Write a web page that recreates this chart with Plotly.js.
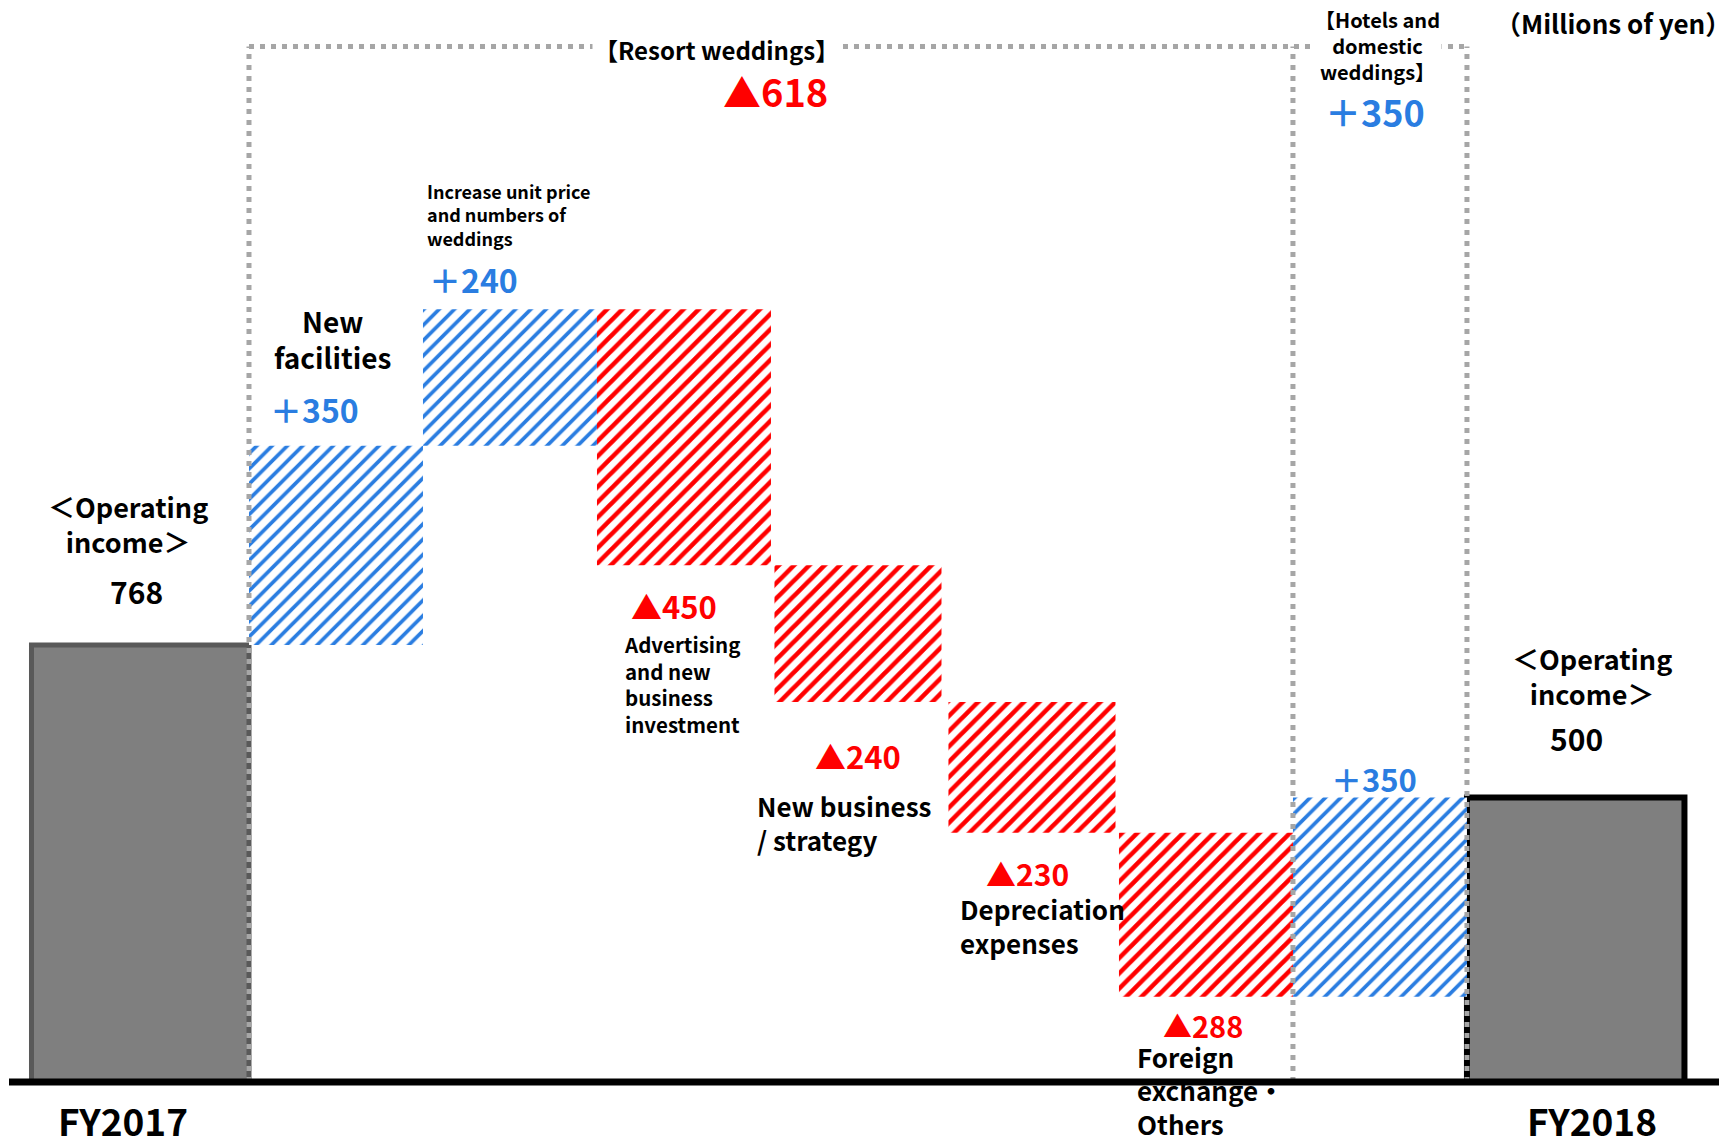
<!DOCTYPE html>
<html>
<head>
<meta charset="utf-8">
<script src="https://cdn.plot.ly/plotly-3.0.1.min.js"></script>
<style>
  html, body { margin: 0; padding: 0; background: #ffffff; }
  #chart { width: 1733px; height: 1146px; }
</style>
</head>
<body>
<div id="chart"></div>
<script>
// Operating income bridge FY2017 -> FY2018 (millions of yen)
const periods = ['FY2017', 'FY2018'];
const startIncome = 768;
const endIncome = 500;
const incomeCaption = '＜Operating<br>income＞';

const factorNames = [
  'New facilities',
  'Increase unit price and numbers of weddings',
  'Advertising and new business investment',
  'New business / strategy',
  'Depreciation expenses',
  'Foreign exchange・Others',
  'Hotels and domestic weddings'
];
const factorChanges = [350, 240, -450, -240, -230, -288, 350];
const factorCaptions = [
  'New<br>facilities',
  'Increase unit price<br>and numbers of<br>weddings',
  'Advertising<br>and new<br>business<br>investment',
  'New business<br>/ strategy',
  'Depreciation<br>expenses',
  'Foreign<br>exchange・<br>Others',
  ''
];

const segmentNames = ['【Resort weddings】', '【Hotels and<br>domestic<br>weddings】'];
const segmentFactors = [[0, 1, 2, 3, 4, 5], [6]];
const unitNote = '（Millions of yen）';

// ---- styling ----
const W = 1733, H = 1146;
const FONT = '"Noto Sans CJK JP", "Noto Sans", sans-serif';
const BLUE = '#2A7DE1';
const RED = '#FF0000';
const GREY_FILL = '#7F7F7F';
const DOT_GREY = '#A6A6A6';
const X_RANGE = [-0.931, 9.029];
const Y_RANGE = [-112.5, 1901.6];

// slot layout: totals at the two ends (wider), factors in unit slots 1..7
const totalX = [-0.125, 8.125];
const totalWidth = [1.25, 1.25];
const factorX = factorChanges.map((_, i) => i + 1);
const factorWidth = [1, 1, 1, 0.96, 0.96, 1, 1];

const fmt = v => (v < 0 ? '▲' + (-v) : '＋' + v);

// running bases for the floating bars
const bases = [];
let running = startIncome;
factorChanges.forEach(v => { bases.push(running); running += v; });

const segmentTotals = segmentFactors.map(ids => ids.reduce((s, i) => s + factorChanges[i], 0));

const pick = (arr, cond) => arr.filter((_, i) => cond(i));
const isUp = i => factorChanges[i] > 0;
const isDown = i => factorChanges[i] < 0;

const traces = [
  {
    type: 'bar',
    x: totalX,
    y: [startIncome, endIncome],
    base: [0, 0],
    width: totalWidth,
    marker: {
      color: GREY_FILL,
      line: { color: ['#595959', '#000000'], width: [5, 6] }
    },
    hoverinfo: 'skip'
  },
  {
    type: 'bar',
    x: pick(factorX, isUp),
    y: pick(factorChanges, isUp),
    base: pick(bases, isUp),
    width: pick(factorWidth, isUp),
    marker: {
      color: BLUE,
      line: { width: 0 },
      pattern: { shape: '/', fgcolor: BLUE, bgcolor: '#ffffff', size: 10.8, solidity: 0.34 }
    },
    hoverinfo: 'skip'
  },
  {
    type: 'bar',
    x: pick(factorX, isDown),
    y: pick(factorChanges, isDown),
    base: pick(bases, isDown),
    width: pick(factorWidth, isDown),
    marker: {
      color: RED,
      line: { width: 0 },
      pattern: { shape: '/', fgcolor: RED, bgcolor: '#ffffff', size: 10.8, solidity: 0.42 }
    },
    hoverinfo: 'skip'
  }
];

// pixel helpers for text placement
const dataX = px => X_RANGE[0] + (px / W) * (X_RANGE[1] - X_RANGE[0]);
const dataY = py => Y_RANGE[1] - (py / H) * (Y_RANGE[1] - Y_RANGE[0]);

// caption that sits partly under the base line is drawn as a text trace
traces.push({
  type: 'scatter',
  mode: 'text',
  x: [dataX(1137)],
  y: [dataY(1095)],
  text: [factorCaptions[5]],
  textposition: 'middle right',
  textfont: { family: FONT, size: 26, color: '#000000', weight: 'bold' },
  hoverinfo: 'skip',
  cliponaxis: false
});

function ann(text, px, py, size, color, opts) {
  return Object.assign({
    text: text,
    xref: 'paper', yref: 'paper',
    x: px / W, y: 1 - py / H,
    xanchor: 'center', yanchor: 'middle',
    showarrow: false,
    align: 'center',
    font: { family: FONT, size: size, color: color, weight: 'bold' }
  }, opts || {});
}

const leftAnn = (text, px, py, size, color) =>
  ann(text, px, py, size, color, { xanchor: 'left', align: 'left' });

const annotations = [
  ann(unitNote, 1733, 22, 26, '#000000', { xanchor: 'right' }),
  ann(segmentNames[0], 716, 49, 24, '#000000', { bgcolor: '#ffffff' }),
  ann(fmt(segmentTotals[0]), 775, 90, 38, RED),
  ann(segmentNames[1], 1377, 46, 20, '#000000', { bgcolor: '#ffffff' }),
  ann(fmt(segmentTotals[1]), 1375, 111, 36, BLUE),

  // totals
  ann(incomeCaption, 128, 524, 27, '#000000'),
  ann(String(startIncome), 136, 591, 30, '#000000'),
  ann(incomeCaption, 1592, 676, 27, '#000000'),
  ann(String(endIncome), 1576, 738, 30, '#000000'),
  ann(periods[0], 123, 1120, 37, '#000000'),
  ann(periods[1], 1592, 1120, 37, '#000000'),

  // factor captions
  ann(factorCaptions[0], 332, 339, 28, '#000000'),
  leftAnn(factorCaptions[1], 425, 214, 18, '#000000'),
  leftAnn(factorCaptions[2], 622, 684, 20.5, '#000000'),
  leftAnn(factorCaptions[3], 755, 822, 26, '#000000'),
  leftAnn(factorCaptions[4], 958, 925, 26, '#000000'),

  // factor values
  ann(fmt(factorChanges[0]), 314, 409, 32, BLUE),
  ann(fmt(factorChanges[1]), 473, 279, 32, BLUE),
  ann(fmt(factorChanges[2]), 674, 606, 31, RED),
  ann(fmt(factorChanges[3]), 858, 755, 31, RED),
  ann(fmt(factorChanges[4]), 1027, 873, 30, RED),
  ann(fmt(factorChanges[5]), 1203, 1025, 29, RED),
  ann(fmt(factorChanges[6]), 1374, 779, 31, BLUE)
];

// dotted segment brackets and the base line
const BRACKET_TOP = 1820;
const dotted = { color: DOT_GREY, width: 5, dash: '5px,6px' };
const shapes = [
  { type: 'line', layer: 'above', xref: 'x', yref: 'y', x0: 0.5, x1: 7.5, y0: BRACKET_TOP, y1: BRACKET_TOP, line: dotted },
  { type: 'line', layer: 'above', xref: 'x', yref: 'y', x0: 0.5, x1: 0.5, y0: 0, y1: BRACKET_TOP, line: dotted },
  { type: 'line', layer: 'above', xref: 'x', yref: 'y', x0: 6.5, x1: 6.5, y0: 0, y1: BRACKET_TOP, line: dotted },
  { type: 'line', layer: 'above', xref: 'x', yref: 'y', x0: 7.5, x1: 7.5, y0: 0, y1: BRACKET_TOP, line: dotted },
  { type: 'line', layer: 'above', xref: 'paper', yref: 'y', x0: 9 / W, x1: 1719 / W, y0: 0, y1: 0, line: { color: '#000000', width: 7 } }
];

const layout = {
  width: W,
  height: H,
  margin: { l: 0, r: 0, t: 0, b: 0, pad: 0 },
  paper_bgcolor: '#ffffff',
  plot_bgcolor: '#ffffff',
  showlegend: false,
  barmode: 'overlay',
  hovermode: false,
  xaxis: { range: X_RANGE, visible: false, fixedrange: true },
  yaxis: { range: Y_RANGE, visible: false, fixedrange: true },
  annotations: annotations,
  shapes: shapes
};

Plotly.newPlot('chart', traces, layout, { displayModeBar: false, staticPlot: true });
</script>
</body>
</html>
